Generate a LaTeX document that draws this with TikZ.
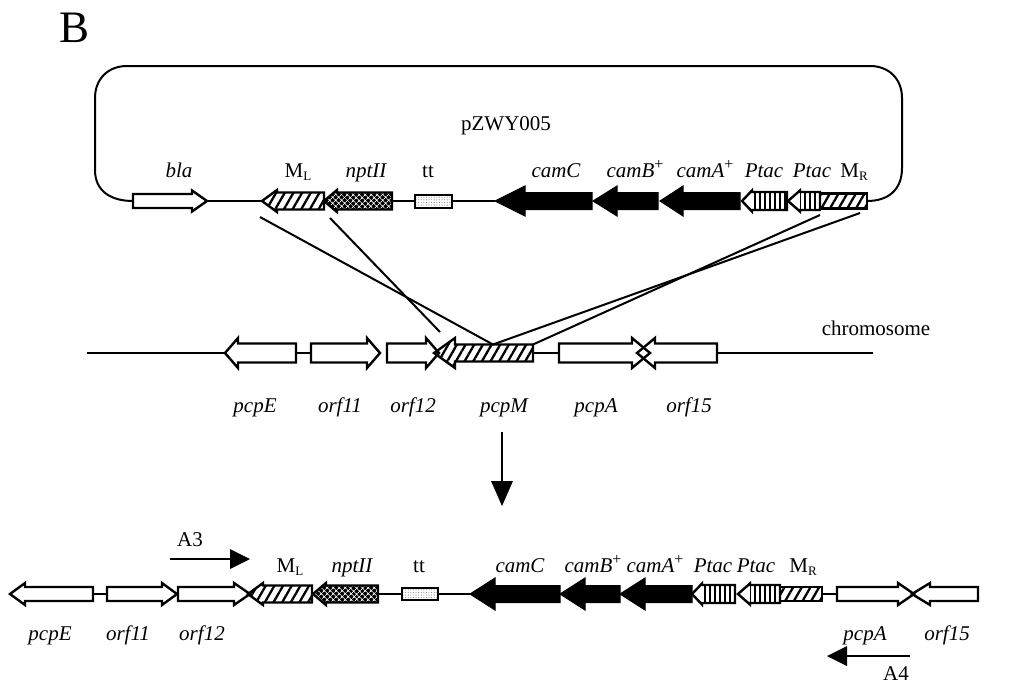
\documentclass[tikz,border=0pt]{standalone}
\usepackage{fontspec}
\setmainfont{Liberation Serif}
\usetikzlibrary{patterns.meta}

% gene arrow: #1 style, #2 name, #3 tail x, #4 head base x, #5 tip x, #6 y, #7 body half height, #8 head half height
\newcommand\genearrow[8]{%
  \draw[#1] (#3,#6-#7) -- (#4,#6-#7) -- (#4,#6-#8) -- (#5,#6) -- (#4,#6+#8) -- (#4,#6+#7) -- (#3,#6+#7) -- cycle;
  \coordinate (#2-tail) at (#3,#6);
  \coordinate (#2-tip) at (#5,#6);
}
% promoter: striped body, plain head
\newcommand\promoter[7]{% #1 name, #2 tail, #3 head base, #4 tip, #5 y, #6 body half, #7 head half
  \fill[ptacfill] (#3,#5-#6) rectangle (#2,#5+#6);
  \genearrow{geneout}{#1}{#2}{#3}{#4}{#5}{#6}{#7}
}
% plain box: #1 style, #2 name, #3 left, #4 right, #5 y, #6 half height
\newcommand\genebox[6]{%
  \draw[#1] (#3,#5-#6) rectangle (#4,#5+#6);
  \coordinate (#2-l) at (#3,#5);
  \coordinate (#2-r) at (#4,#5);
}

\tikzset{
  dna/.style={line width=2pt},
  geneout/.style={draw=black, line width=2.4pt, line join=miter},
  plain/.style={geneout},
  hatched/.style={geneout, pattern={Lines[angle=60,distance=7.5pt,line width=2.3pt]}},
  ptacfill/.style={pattern={Lines[angle=90,distance=5pt,line width=2pt]}},
  neo/.style={geneout, preaction={fill=black}, pattern={Hatch[angle=45,distance=4pt,line width=0.7pt]}, pattern color=white},
  term/.style={draw=black, line width=2pt, pattern={Dots[distance=2.6pt,radius=0.55pt]}, pattern color=gray},
  solid/.style={draw=black, fill=black, line width=1pt},
  lab/.style={font=\fontsize{21}{25}\selectfont, anchor=base, inner sep=0pt},
  glab/.style={lab, font=\fontsize{21}{25}\selectfont\itshape},
  cross/.style={line width=2pt},
}
\newcommand\Msub[1]{M\raisebox{-0.35ex}{\fontsize{13}{13}\selectfont #1}}
\newcommand\plus{\raisebox{0.75ex}{\fontsize{16}{16}\selectfont\upshape +}}

\begin{document}
\begin{tikzpicture}[x=1pt,y=-1pt]
\useasboundingbox (0,0) rectangle (1020,686);

\node[font=\fontsize{45}{50}\selectfont, anchor=base] (panel) at (75,42) {B};

% ---------------- plasmid pZWY005 ----------------
\genearrow{plain}{bla}{133}{192}{207}{201}{7}{10.5}
\genearrow{hatched}{ML}{324}{277}{262}{201}{8.5}{11}
\genearrow{neo}{npt}{392}{337}{324}{201}{8.5}{11}
\genebox{term}{tt}{415}{452}{201}{6.5}
\genearrow{solid}{camC}{592}{525}{495}{201}{8.5}{15}
\genearrow{solid}{camB}{658}{617}{593}{201}{8.5}{15}
\genearrow{solid}{camA}{740}{683}{660}{201}{8.5}{15}
\promoter{PtacA}{787}{752}{742}{201}{9}{10.5}
\promoter{PtacB}{820}{800}{788}{201}{9}{10.5}
\genebox{hatched}{MR}{820}{867}{201}{7.5}

\draw[dna] (bla-tip) -- (ML-tip);
\draw[dna] (npt-tail) -- (tt-l);
\draw[dna] (tt-r) -- (camC-tip);
% plasmid backbone closing the circle
\draw[dna] (bla-tail) .. controls (112,201) and (95,192) .. (95,170)
  -- (95,98) .. controls (95,79) and (108,66) .. (127,66)
  -- (870,66) .. controls (889,66) and (902,79) .. (902,98)
  -- (902,168) .. controls (902,190) and (888,201) .. (MR-r);

\node[lab] (pz) at (506,130) {pZWY005};
\node[glab] (lbla) at (179,177) {bla};
\node[lab] (lML) at (298,177) {\Msub{L}};
\node[glab] (lnpt) at (366,177) {nptII};
\node[lab] (ltt) at (428,177) {tt};
\node[glab] (lcamC) at (556,177) {camC};
\node[glab] (lcamB) at (635,177) {camB\plus};
\node[glab] (lcamA) at (705,177) {camA\plus};
\node[glab] (lPa) at (764,177) {Ptac};
\node[glab] (lPb) at (812,177) {Ptac};
\node[lab] (lMR) at (854,177) {\Msub{R}};

% ---------------- chromosome ----------------
\coordinate (chrL) at (87,353);
\coordinate (chrR) at (873,353);
\genearrow{hatched}{pcpM}{533}{455}{434}{353}{8.5}{15}
\genearrow{plain}{pcpE}{296}{238}{225}{353}{9.5}{15}
\genearrow{plain}{orf11}{311}{367}{380}{353}{9.5}{15}
\genearrow{plain}{orf12}{387}{426}{439}{353}{9.5}{15}
\genearrow{plain}{pcpA}{559}{632}{650}{353}{9.5}{15}
\genearrow{plain}{orf15}{717}{655}{637}{353}{9.5}{15}
\draw[dna] (chrL) -- (pcpE-tip);
\draw[dna] (pcpE-tail) -- (orf11-tail);
\draw[dna] (pcpM-tail) -- (pcpA-tail);
\draw[dna] (orf15-tail) -- (chrR);

\node[lab] (chr) at (876,335) {chromosome};
\node[glab] (lpcpE) at (255,412) {pcpE};
\node[glab] (lorf11) at (340,412) {orf11};
\node[glab] (lorf12) at (413,412) {orf12};
\node[glab] (lpcpM) at (504,412) {pcpM};
\node[glab] (lpcpA) at (596,412) {pcpA};
\node[glab] (lorf15) at (689,412) {orf15};

% homologous regions used for the double crossover
\coordinate (xa) at (260,217);
\coordinate (xb) at (330,218);
\coordinate (xc) at (820,215);
\coordinate (xd) at (860,213);
\coordinate (ma) at (493,344.5);
\coordinate (mb) at (440,332);
\coordinate (mc) at (533,344.5);
\draw[cross] (xa) -- (ma);
\draw[cross] (xb) -- (mb);
\draw[cross] (xc) -- (mc);
\draw[cross] (xd) -- (ma);

% integration step
\coordinate (dtop) at (502,432);
\coordinate (dbot) at (502,506);
\draw[line width=2pt] (dtop) -- (502,484);
\fill (dbot) -- (491,481) -- (513,481) -- cycle;

% ---------------- recombinant chromosome ----------------
\genearrow{hatched}{ML2}{312}{263}{248}{594}{8.5}{11}
\genearrow{plain}{pcpE2}{93}{25}{10}{594}{7}{11}
\genearrow{plain}{orf112}{107}{162}{177}{594}{7}{11}
\genearrow{plain}{orf122}{178}{234}{250}{594}{7}{11}
\genearrow{neo}{npt2}{378}{326}{313}{594}{8.5}{11}
\genebox{term}{tt2}{402}{438}{594}{6}
\genearrow{solid}{camC2}{560}{495}{470}{594}{8.5}{16}
\genearrow{solid}{camB2}{620}{585}{560}{594}{8.5}{16}
\genearrow{solid}{camA2}{692}{645}{620}{594}{8.5}{16}
\promoter{PtacA2}{735}{702}{692}{594}{9}{10.5}
\promoter{PtacB2}{780}{750}{738}{594}{9}{10.5}
\genebox{hatched}{MR2}{780}{822}{594}{7}
\genearrow{plain}{pcpA2}{837}{898}{914}{594}{7}{11}
\genearrow{plain}{orf152}{978}{930}{912}{594}{7}{11}
\draw[dna] (pcpE2-tail) -- (orf112-tail);
\draw[dna] (npt2-tail) -- (tt2-l);
\draw[dna] (tt2-r) -- (camC2-tip);
\draw[dna] (MR2-r) -- (pcpA2-tail);

\node[lab] (lML2) at (290,572) {\Msub{L}};
\node[glab] (lnpt2) at (352,572) {nptII};
\node[lab] (ltt2) at (419,572) {tt};
\node[glab] (lcamC2) at (520,572) {camC};
\node[glab] (lcamB2) at (593,572) {camB\plus};
\node[glab] (lcamA2) at (655,572) {camA\plus};
\node[glab] (lPa2) at (713,572) {Ptac};
\node[glab] (lPb2) at (756,572) {Ptac};
\node[lab] (lMR2) at (803,572) {\Msub{R}};

\node[glab] (lpcpE2) at (50,640) {pcpE};
\node[glab] (lorf112) at (128,640) {orf11};
\node[glab] (lorf122) at (202,640) {orf12};
\node[glab] (lpcpA2) at (865,640) {pcpA};
\node[glab] (lorf152) at (947,640) {orf15};

% PCR primers
\coordinate (a3s) at (170,559);
\coordinate (a3t) at (250,559);
\draw[line width=2pt] (a3s) -- (232,559);
\fill (a3t) -- (230,549) -- (230,569) -- cycle;
\node[lab] (A3) at (190,546) {A3};

\coordinate (a4s) at (910,656);
\coordinate (a4t) at (827,656);
\draw[line width=2pt] (a4s) -- (845,656);
\fill (a4t) -- (847,646) -- (847,666) -- cycle;
\node[lab] (A4) at (896,680) {A4};
\end{tikzpicture}
\end{document}
